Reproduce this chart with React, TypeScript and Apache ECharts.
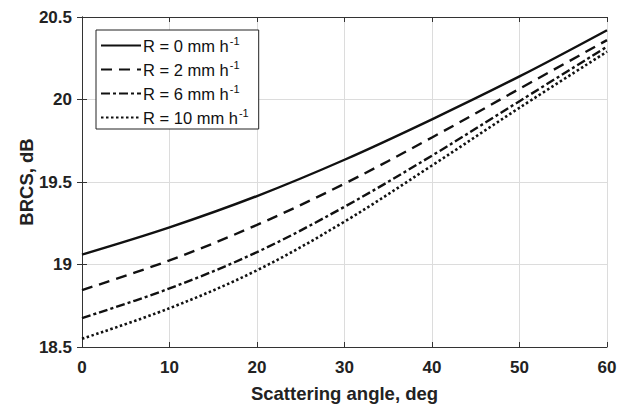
import React, { useEffect, useRef } from "react";
import * as echarts from "echarts";

const angles = [0, 10, 20, 30, 40, 50, 60];
const rainRates = [0, 2, 6, 10];
const brcsR0 = [19.06, 19.225, 19.415, 19.635, 19.88, 20.14, 20.42];
const brcsR2 = [18.845, 19.025, 19.24, 19.49, 19.77, 20.065, 20.36];
const brcsR6 = [18.675, 18.855, 19.075, 19.35, 19.66, 19.99, 20.32];
const brcsR10 = [18.55, 18.735, 18.965, 19.26, 19.6, 19.95, 20.29];
const allSeries = [brcsR0, brcsR2, brcsR6, brcsR10];
const yTicks = [18.5, 19, 19.5, 20, 20.5];

const FONT = "'Liberation Sans', Arial, Helvetica, sans-serif";
const lineTypes: any[] = ["solid", [11, 7], [9, 3, 3, 3], [2.5, 2.5]];

export default function App() {
  const ref = useRef<HTMLDivElement>(null);
  useEffect(() => {
    if (!ref.current) return;
    const chart = echarts.init(ref.current, undefined, { renderer: "svg" });
    const names = rainRates.map((r) => `R = ${r} mm h`);
    const tickLabel = { fontFamily: FONT, fontSize: 17, fontWeight: "bold", color: "#222" };
    const titleStyle = { fontFamily: FONT, fontSize: 18.5, fontWeight: "bold", color: "#222" };
    const option: any = {
      animation: false,
      backgroundColor: "#ffffff",
      textStyle: { fontFamily: FONT },
      grid: { left: 82, right: 11, top: 17, bottom: 61, show: false, containLabel: false, outerBoundsMode: "none" },
      legend: {
        show: true,
        left: 96,
        top: 30,
        orient: "vertical",
        itemWidth: 40,
        itemHeight: 14,
        itemGap: 5,
        padding: [5, 10, 3, 4],
        borderColor: "#222",
        borderWidth: 1,
        backgroundColor: "#fff",
        itemStyle: { opacity: 0 },
        data: names,
        formatter: (n: string) => `${n}{sup|-1}`,
        textStyle: {
          fontFamily: FONT,
          fontSize: 16.5,
          color: "#111",
          padding: [0, 0, 0, -3],
          rich: {
            sup: { fontSize: 11, fontFamily: FONT, color: "#111", verticalAlign: "top", padding: [0, 0, 10, 1] },
          },
        },
      },
      xAxis: [
        {
          type: "value",
          min: 0,
          max: 60,
          interval: 10,
          name: "Scattering angle, deg",
          nameLocation: "middle",
          nameGap: 37,
          nameMoveOverlap: false,
          nameTextStyle: titleStyle,
          axisLine: { show: true, lineStyle: { color: "#333", width: 1 } },
          axisTick: { show: true, inside: true, length: 5, lineStyle: { color: "#333" } },
          axisLabel: { ...tickLabel, margin: 12 },
          splitLine: { show: true, lineStyle: { color: "#dcdcdc", width: 1 } },
        },
        {
          type: "value",
          position: "top",
          min: 0,
          max: 60,
          interval: 10,
          axisLine: { show: true, lineStyle: { color: "#333", width: 1 } },
          axisTick: { show: true, inside: true, length: 5, lineStyle: { color: "#333" } },
          axisLabel: { show: false },
          splitLine: { show: false },
        },
      ],
      yAxis: [
        {
          type: "value",
          min: yTicks[0],
          max: yTicks[yTicks.length - 1],
          interval: 0.5,
          name: "BRCS, dB",
          nameLocation: "middle",
          nameGap: 46,
          nameMoveOverlap: false,
          nameTextStyle: titleStyle,
          axisLine: { show: true, lineStyle: { color: "#333", width: 1 } },
          axisTick: { show: true, inside: true, length: 5, lineStyle: { color: "#333" } },
          axisLabel: { ...tickLabel, margin: 10 },
          splitLine: { show: true, lineStyle: { color: "#dcdcdc", width: 1 } },
        },
        {
          type: "value",
          position: "right",
          min: yTicks[0],
          max: yTicks[yTicks.length - 1],
          interval: 0.5,
          axisLine: { show: true, lineStyle: { color: "#333", width: 1 } },
          axisTick: { show: true, inside: true, length: 5, lineStyle: { color: "#333" } },
          axisLabel: { show: false },
          splitLine: { show: false },
        },
      ],
      series: allSeries.map((vals, i) => ({
        name: names[i],
        type: "line",
        smooth: 0.35,
        showSymbol: false,
        symbol: "none",
        data: angles.map((a, j) => [a, vals[j]]),
        lineStyle: { color: "#111", width: i === 3 ? 2.6 : 2.4, type: lineTypes[i] },
        itemStyle: { color: "#111" },
      })),
    };
    chart.setOption(option);
    return () => chart.dispose();
  }, []);
  return (
    <div
      ref={ref}
      style={{ position: "fixed", left: 0, top: 0, width: 618, height: 408 }}
    />
  );
}
